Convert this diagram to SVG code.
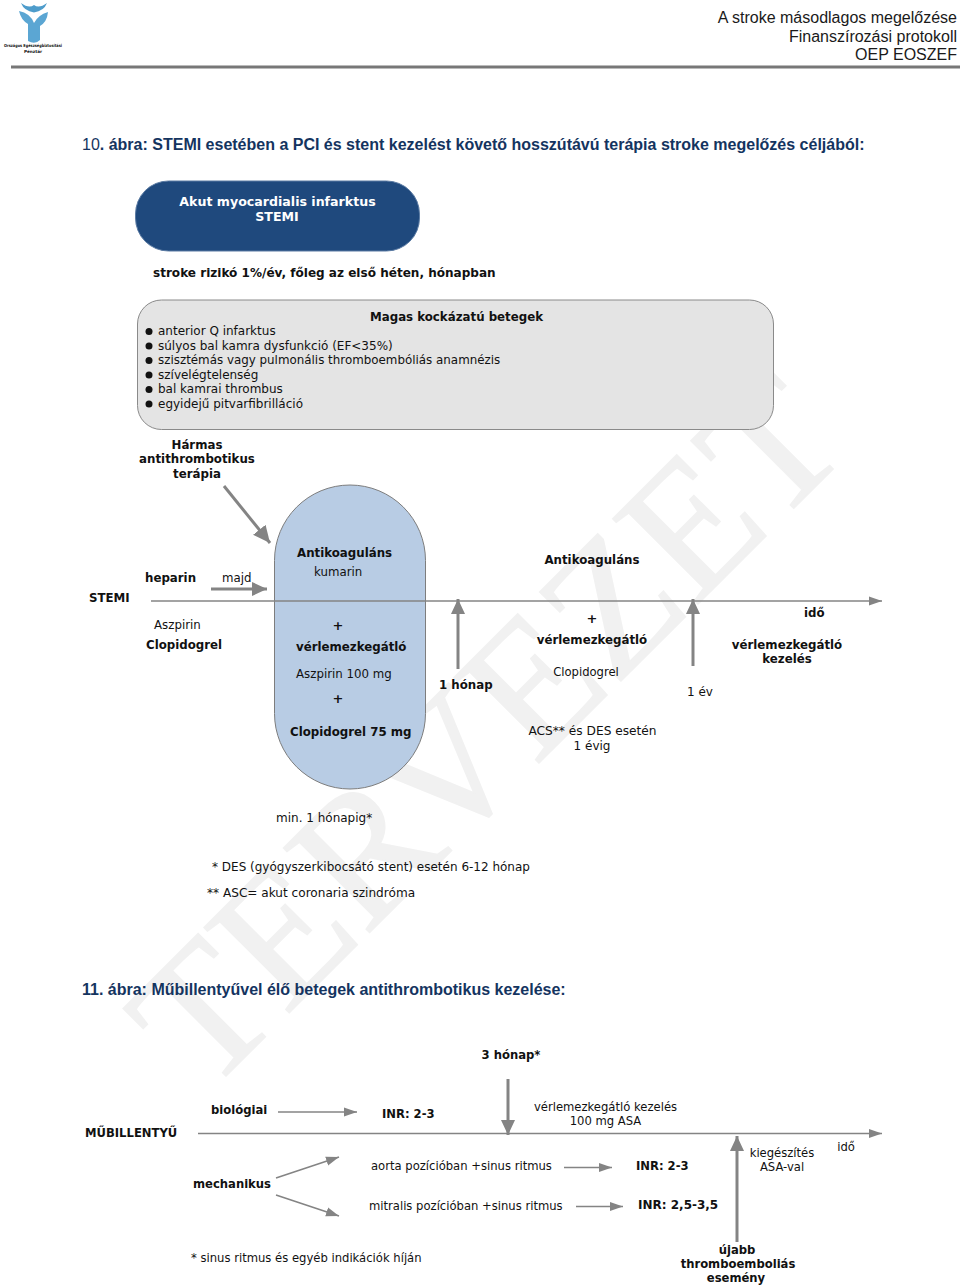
<svg xmlns="http://www.w3.org/2000/svg" width="960" height="1286" viewBox="0 0 960 1286">
<defs>
<marker id="ah" markerUnits="userSpaceOnUse" markerWidth="16" markerHeight="15" refX="15" refY="7.500" orient="auto"><path d="M0 0.500L15 7.500L0 14.500Z" fill="#848484"/></marker>
<marker id="al" markerUnits="userSpaceOnUse" markerWidth="18" markerHeight="17" refX="17" refY="8.500" orient="auto"><path d="M0 0.500L17 8.500L0 16.500Z" fill="#848484"/></marker>
<marker id="as" markerUnits="userSpaceOnUse" markerWidth="14" markerHeight="10" refX="13" refY="5" orient="auto"><path d="M0 0.500L13 5L0 9.500Z" fill="#848484"/></marker>
</defs>
<style>
text{font-family:"DejaVu Sans","Verdana",sans-serif;font-size:12px;fill:#111}
.b{font-weight:700;font-size:11.8px}
.m{text-anchor:middle}
.s text{font-size:11.6px}
.h{font-family:"Liberation Sans",Arial,sans-serif;font-size:16px;font-weight:700;fill:#14345f}
.r{font-weight:400}
.hd{font-family:"Liberation Sans",Arial,sans-serif;font-size:16px;fill:#1a1a1a;text-anchor:end}
.wm{font-family:"Liberation Serif","Times New Roman",serif;font-size:184px;fill:#f1f1f1;stroke:#f1f1f1;stroke-width:1.500px}
.l{stroke:#848484;fill:none}
.t{stroke-width:1.500}
.k{stroke-width:3}
</style>
<rect width="960" height="1286" fill="#fff"/>
<text class="wm" transform="translate(206 1096) rotate(-45)">TERVEZET</text>
<g id="logo">
<path d="M21 3Q29 9 34 5Q39 9 47 3Q44 11 34 12.500Q24 11 21 3Z" fill="#4e9ccb"/>
<path d="M19 11Q30 13 34 23Q38 15 48 12Q47 22 40 26L40 40Q35 45 28 41L28 24Q21 20 19 11Z" fill="#5ba6d3"/>
<text class="m" x="33" y="46.500" textLength="58" lengthAdjust="spacingAndGlyphs" style="font-size:4.200px;font-weight:700">Országos Egészségbiztosítási</text>
<text class="m" x="33" y="52.500" style="font-size:4.200px;font-weight:700">Pénztár</text>
</g>
<g id="header">
<text class="hd" x="957" y="23">A stroke másodlagos megelőzése</text>
<text class="hd" x="957" y="42">Finanszírozási protokoll</text>
<text class="hd" x="957" y="60">OEP EOSZEF</text>
<rect x="11" y="65.500" width="949" height="3" fill="#777"/>
</g>
<text id="title1" class="h" x="82" y="150"><tspan class="r">10</tspan>. ábra: STEMI esetében a PCI és stent kezelést követő hosszútávú terápia stroke megelőzés céljából:</text>
<g id="n-akut">
<rect x="135.500" y="181" width="284" height="70" rx="33" fill="#1f497d" stroke="#5b7ba3"/>
<text class="b m" x="277.500" y="206" style="fill:#fff;font-size:12.600px">Akut myocardialis infarktus</text>
<text class="b m" x="277" y="221" style="fill:#fff;font-size:12.600px">STEMI</text>
</g>
<text id="rizik" class="b" x="153" y="277" style="font-size:12.050px">stroke rizikó 1%/év, főleg az első héten, hónapban</text>
<g id="n-magas">
<rect x="137.500" y="300" width="636" height="129.500" rx="24" fill="#e4e4e4" stroke="#8a8a8a"/>
<text class="b" x="370" y="321">Magas kockázatú betegek</text>
<g fill="#111"><circle cx="149" cy="331.500" r="3.500"/><circle cx="149" cy="346" r="3.500"/><circle cx="149" cy="360.500" r="3.500"/><circle cx="149" cy="375" r="3.500"/><circle cx="149" cy="389.500" r="3.500"/><circle cx="149" cy="404" r="3.500"/></g>
<text x="158" y="335">anterior Q infarktus</text>
<text x="158" y="350">súlyos bal kamra dysfunkció (EF&lt;35%)</text>
<text x="158" y="364" style="font-size:11.880px">szisztémás vagy pulmonális thromboembóliás anamnézis</text>
<text x="158" y="379">szívelégtelenség</text>
<text x="158" y="393">bal kamrai thrombus</text>
<text x="158" y="408">egyidejű pitvarfibrilláció</text>
</g>
<g id="n-harmas">
<text class="b m" x="197" y="449">Hármas</text>
<text class="b m" x="197" y="463">antithrombotikus</text>
<text class="b m" x="197" y="478">terápia</text>
</g>
<g id="n-capsule">
<rect x="274.500" y="485" width="151" height="304" rx="75.500" fill="#b8cce4" stroke="#7d7d7d"/>
<text class="b" x="297" y="557">Antikoaguláns</text>
<text x="314" y="576" style="font-size:11.800px">kumarin</text>
<text class="b m" x="338" y="630" style="font-size:13px">+</text>
<text class="b" x="296" y="651">vérlemezkegátló</text>
<text x="296" y="678" style="font-size:11.800px">Aszpirin 100 mg</text>
<text class="b m" x="338" y="703" style="font-size:13px">+</text>
<text class="b" x="290" y="736">Clopidogrel 75 mg</text>
</g>
<g id="connectors">
<path class="l t" d="M151 601H882" marker-end="url(#as)"/>
<path class="l k" d="M224 486L270 543" marker-end="url(#al)"/>
<path class="l k" d="M211 589H267" marker-end="url(#ah)"/>
<path class="l k" d="M458 669V599" marker-end="url(#ah)"/>
<path class="l k" d="M693 666V599" marker-end="url(#ah)"/>
<path class="l t" d="M198 1133.500H882" marker-end="url(#as)"/>
<path class="l t" d="M278 1112H357" marker-end="url(#as)"/>
<path class="l k" d="M508 1079V1135" marker-end="url(#ah)"/>
<path class="l t" d="M276 1178L339 1157" marker-end="url(#as)"/>
<path class="l t" d="M276 1195L339 1216" marker-end="url(#as)"/>
<path class="l t" d="M564 1167.500H612" marker-end="url(#as)"/>
<path class="l t" d="M576 1206.500H623" marker-end="url(#as)"/>
<path class="l k" d="M737 1242V1136" marker-end="url(#ah)"/>
</g>
<g id="labels1">
<text class="b" x="89" y="602">STEMI</text>
<text class="b" x="145" y="582">heparin</text>
<text x="222" y="582" style="font-size:11.800px">majd</text>
<text x="154" y="629" style="font-size:11.800px">Aszpirin</text>
<text class="b" x="146" y="649">Clopidogrel</text>
<text class="b" x="439" y="689">1 hónap</text>
<text class="b m" x="592" y="564">Antikoaguláns</text>
<text class="b m" x="592" y="623" style="font-size:13px">+</text>
<text class="b m" x="592" y="644">vérlemezkegátló</text>
<text class="m" x="586" y="676" style="font-size:11.600px">Clopidogrel</text>
<text class="m" x="700" y="696">1 év</text>
<text class="m" x="592.500" y="735" style="font-size:12.200px">ACS** és DES esetén</text>
<text class="m" x="592" y="750">1 évig</text>
<text class="b" x="804" y="617">idő</text>
<text class="b m" x="787" y="649">vérlemezkegátló</text>
<text class="b m" x="787" y="663">kezelés</text>
<text x="276" y="822">min. 1 hónapig*</text>
<text x="212" y="871">* DES (gyógyszerkibocsátó stent) esetén 6-12 hónap</text>
<text x="207" y="897" style="font-size:12.100px">** ASC= akut coronaria szindróma</text>
</g>
<text id="title2" class="h" x="82" y="995">11. ábra: Műbillentyűvel élő betegek antithrombotikus kezelése:</text>
<g id="labels2" class="s">
<text class="b m" x="511" y="1059">3 hónap*</text>
<text class="b" x="85" y="1137">MŰBILLENTYŰ</text>
<text class="b" x="211" y="1114">biológiai</text>
<text class="b" x="382" y="1118">INR: 2-3</text>
<text class="m" x="605.500" y="1111">vérlemezkegátló kezelés</text>
<text class="m" x="605.500" y="1125">100 mg ASA</text>
<text class="b" x="193" y="1188">mechanikus</text>
<text x="371" y="1170">aorta pozícióban +sinus ritmus</text>
<text x="369" y="1210">mitralis pozícióban +sinus ritmus</text>
<text class="b" x="636" y="1170">INR: 2-3</text>
<text class="b" x="638" y="1209" style="font-size:12px">INR: 2,5-3,5</text>
<text class="m" x="782" y="1157">kiegészítés</text>
<text class="m" x="782" y="1171">ASA-val</text>
<text class="m" x="846" y="1151">idő</text>
<text x="191" y="1262">* sinus ritmus és egyéb indikációk híján</text>
<text class="b m" x="737" y="1254">újabb</text>
<text class="b m" x="738" y="1268">thromboemboliás</text>
<text class="b m" x="736" y="1282">esemény</text>
</g>
</svg>
